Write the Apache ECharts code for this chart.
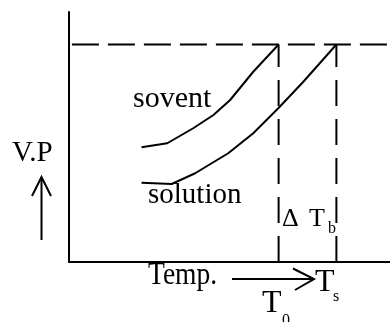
<!DOCTYPE html>
<html>
<head>
<meta charset="utf-8">
<script src="https://cdn.jsdelivr.net/npm/echarts@6/dist/echarts.min.js"></script>
<style>
html,body{margin:0;padding:0;background:#fff;}
#c{width:390px;height:322px;}
</style>
</head>
<body>
<div id="c"></div>
<script>
// ---- data (temperature in arbitrary units 0..100, vapour pressure 0..100) ----
var solventCurve = [[22.6,45.9],[30.6,47.5],[38.7,53.5],[45.0,58.8],[50.2,64.8],[57.4,76.1],[65.3,87.0]];
var solutionCurve = [[22.6,31.7],[32.0,31.2],[39.3,35.5],[49.6,43.5],[57.4,51.5],[65.2,61.5],[73.0,72.1],[83.3,87.0]];
var T0 = 65.3;      // boiling point of solvent
var Ts = 83.3;      // boiling point of solution
var P0 = 87.0;      // atmospheric pressure level
var levelStart = 0.9;
var xMax = 100, yMax = 100;

var FONT = "'Liberation Serif','Times New Roman',serif";
var chart = echarts.init(document.getElementById('c'), null, {renderer:'canvas'});

function txt(text, x, y, size, extra){
  var o = {type:'text', x:x, y:y, silent:true,
    style:{text:text, font: size+'px '+FONT, fill:'#000', textAlign:'left', textVerticalAlign:'middle'}};
  if (extra) for (var k in extra) o[k] = extra[k];
  return o;
}
var lineStyleBlack = {stroke:'#000', lineWidth:2, fill:null};

var option = {
  animation:false,
  backgroundColor:'#fff',
  grid:{left:69, right:0, top:12, bottom:60},
  xAxis:{type:'value', min:0, max:xMax,
    axisLine:{show:true, onZero:false, lineStyle:{color:'#000', width:2}},
    axisTick:{show:false}, axisLabel:{show:false}, splitLine:{show:false}},
  yAxis:{type:'value', min:0, max:yMax,
    axisLine:{show:true, onZero:false, lineStyle:{color:'#000', width:2}},
    axisTick:{show:false}, axisLabel:{show:false}, splitLine:{show:false}},
  series:[
    {type:'line', data:solventCurve, symbol:'none', lineStyle:{color:'#000', width:2}},
    {type:'line', data:solutionCurve, symbol:'none', lineStyle:{color:'#000', width:2}},
    {type:'line', data:[[levelStart,P0],[xMax,P0]], symbol:'none',
      lineStyle:{color:'#000', width:2, type:[27,9]}},
    {type:'line', data:[[T0,0],[T0,P0]], symbol:'none',
      lineStyle:{color:'#000', width:2, type:[26,13]}},
    {type:'line', data:[[Ts,0],[Ts,P0]], symbol:'none',
      lineStyle:{color:'#000', width:2, type:[26,13]}}
  ],
  graphic:[
    txt('sovent', 133, 99, 30),
    txt('solution', 148, 195, 29),
    txt('V.P', 12, 153, 29),
    txt('\u0394', 282, 219, 26),
    txt('T', 309, 219, 26),
    txt('b', 328, 228.5, 16),
    txt('Temp.', 148, 276, 32, {scaleX:0.86}),
    txt('T', 315, 282.5, 32),
    txt('s', 333, 297, 16),
    txt('T', 262, 303.5, 32),
    txt('0', 282, 321, 16),
    // up arrow next to V.P
    {type:'line', silent:true, shape:{x1:41.5, y1:178, x2:41.5, y2:240}, style:lineStyleBlack},
    {type:'polyline', silent:true, shape:{points:[[32,196],[41.5,177],[51,196]]}, style:lineStyleBlack},
    // horizontal arrow T0 -> Ts
    {type:'line', silent:true, shape:{x1:232, y1:279, x2:313, y2:279}, style:lineStyleBlack},
    {type:'polyline', silent:true, shape:{points:[[293,268.5],[314,279],[295,290]]}, style:lineStyleBlack}
  ]
};
chart.setOption(option);
</script>
</body>
</html>
